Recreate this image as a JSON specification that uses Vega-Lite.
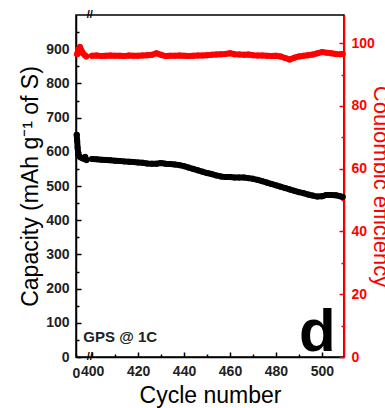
{
  "$schema": "https://vega.github.io/schema/vega-lite/v6.json",
  "width": 268,
  "height": 342,
  "autosize": "none",
  "padding": {"left": 76, "top": 15, "right": 41, "bottom": 51},
  "background": "white",
  "config": {
    "view": {"stroke": "black", "strokeWidth": 1.5},
    "font": "Liberation Sans",
    "axis": {
      "grid": false,
      "domainWidth": 1.5,
      "tickWidth": 1.5,
      "labelFont": "Liberation Sans",
      "labelFontSize": 14,
      "labelFontWeight": "bold",
      "titleFont": "Liberation Sans",
      "titleFontSize": 23,
      "titleFontWeight": "normal",
      "labelFlush": false,
      "labelOverlap": false,
      "labelBound": false
    }
  },
  "datasets": {
    "capacity": [
      {"part": "pre", "cycle": 393.3, "cap": 650}, {"part": "pre", "cycle": 393.5, "cap": 632}, {"part": "pre", "cycle": 393.7, "cap": 612},
      {"part": "pre", "cycle": 394.0, "cap": 592}, {"part": "pre", "cycle": 394.7, "cap": 585}, {"part": "pre", "cycle": 395.5, "cap": 582},
      {"part": "pre", "cycle": 396.3, "cap": 580}, {"part": "pre", "cycle": 397.0, "cap": 585}, {"part": "pre", "cycle": 397.6, "cap": 576},
      {"part": "main", "cycle": 400, "cap": 579}, {"part": "main", "cycle": 402, "cap": 578}, {"part": "main", "cycle": 404, "cap": 577},
      {"part": "main", "cycle": 406, "cap": 576}, {"part": "main", "cycle": 408, "cap": 575}, {"part": "main", "cycle": 410, "cap": 574},
      {"part": "main", "cycle": 412, "cap": 573}, {"part": "main", "cycle": 414, "cap": 572}, {"part": "main", "cycle": 416, "cap": 571},
      {"part": "main", "cycle": 418, "cap": 570}, {"part": "main", "cycle": 420, "cap": 569}, {"part": "main", "cycle": 422, "cap": 568},
      {"part": "main", "cycle": 424, "cap": 566}, {"part": "main", "cycle": 426, "cap": 565}, {"part": "main", "cycle": 428, "cap": 565},
      {"part": "main", "cycle": 430, "cap": 567}, {"part": "main", "cycle": 432, "cap": 565}, {"part": "main", "cycle": 434, "cap": 564},
      {"part": "main", "cycle": 436, "cap": 563}, {"part": "main", "cycle": 438, "cap": 561}, {"part": "main", "cycle": 440, "cap": 558},
      {"part": "main", "cycle": 442, "cap": 554}, {"part": "main", "cycle": 444, "cap": 550}, {"part": "main", "cycle": 446, "cap": 546},
      {"part": "main", "cycle": 448, "cap": 542}, {"part": "main", "cycle": 450, "cap": 538}, {"part": "main", "cycle": 452, "cap": 535},
      {"part": "main", "cycle": 454, "cap": 531}, {"part": "main", "cycle": 456, "cap": 528}, {"part": "main", "cycle": 458, "cap": 526},
      {"part": "main", "cycle": 460, "cap": 526}, {"part": "main", "cycle": 462, "cap": 525}, {"part": "main", "cycle": 464, "cap": 525},
      {"part": "main", "cycle": 466, "cap": 525}, {"part": "main", "cycle": 468, "cap": 523}, {"part": "main", "cycle": 470, "cap": 521},
      {"part": "main", "cycle": 472, "cap": 518}, {"part": "main", "cycle": 474, "cap": 514}, {"part": "main", "cycle": 476, "cap": 510},
      {"part": "main", "cycle": 478, "cap": 506}, {"part": "main", "cycle": 480, "cap": 502}, {"part": "main", "cycle": 482, "cap": 498},
      {"part": "main", "cycle": 484, "cap": 494}, {"part": "main", "cycle": 486, "cap": 490}, {"part": "main", "cycle": 488, "cap": 486},
      {"part": "main", "cycle": 490, "cap": 482}, {"part": "main", "cycle": 492, "cap": 479}, {"part": "main", "cycle": 494, "cap": 475},
      {"part": "main", "cycle": 496, "cap": 472}, {"part": "main", "cycle": 498, "cap": 469}, {"part": "main", "cycle": 500, "cap": 470},
      {"part": "main", "cycle": 502, "cap": 474}, {"part": "main", "cycle": 504, "cap": 474}, {"part": "main", "cycle": 506, "cap": 473},
      {"part": "main", "cycle": 508, "cap": 470}, {"part": "main", "cycle": 509, "cap": 468}
    ],
    "ce": [
      {"part": "pre", "cycle": 393.5, "ce": 96.5}, {"part": "pre", "cycle": 394.0, "ce": 98.0}, {"part": "pre", "cycle": 394.7, "ce": 98.8},
      {"part": "pre", "cycle": 395.3, "ce": 97.8}, {"part": "pre", "cycle": 396.0, "ce": 96.8}, {"part": "pre", "cycle": 396.8, "ce": 96.2},
      {"part": "pre", "cycle": 397.5, "ce": 95.8},
      {"part": "main", "cycle": 400, "ce": 96.0}, {"part": "main", "cycle": 402, "ce": 96.1}, {"part": "main", "cycle": 404, "ce": 95.9},
      {"part": "main", "cycle": 406, "ce": 96.0}, {"part": "main", "cycle": 408, "ce": 96.1}, {"part": "main", "cycle": 410, "ce": 96.0},
      {"part": "main", "cycle": 412, "ce": 96.0}, {"part": "main", "cycle": 414, "ce": 95.9}, {"part": "main", "cycle": 416, "ce": 96.1},
      {"part": "main", "cycle": 418, "ce": 96.0}, {"part": "main", "cycle": 420, "ce": 96.0}, {"part": "main", "cycle": 422, "ce": 96.1},
      {"part": "main", "cycle": 424, "ce": 96.2}, {"part": "main", "cycle": 426, "ce": 96.3}, {"part": "main", "cycle": 428, "ce": 96.8},
      {"part": "main", "cycle": 430, "ce": 96.3}, {"part": "main", "cycle": 432, "ce": 95.9}, {"part": "main", "cycle": 434, "ce": 96.0},
      {"part": "main", "cycle": 436, "ce": 96.0}, {"part": "main", "cycle": 438, "ce": 96.1}, {"part": "main", "cycle": 440, "ce": 96.0},
      {"part": "main", "cycle": 442, "ce": 95.9}, {"part": "main", "cycle": 444, "ce": 96.0}, {"part": "main", "cycle": 446, "ce": 96.1},
      {"part": "main", "cycle": 448, "ce": 96.1}, {"part": "main", "cycle": 450, "ce": 96.2}, {"part": "main", "cycle": 452, "ce": 96.3},
      {"part": "main", "cycle": 454, "ce": 96.4}, {"part": "main", "cycle": 456, "ce": 96.5}, {"part": "main", "cycle": 458, "ce": 96.6},
      {"part": "main", "cycle": 460, "ce": 96.8}, {"part": "main", "cycle": 462, "ce": 96.5}, {"part": "main", "cycle": 464, "ce": 96.4},
      {"part": "main", "cycle": 466, "ce": 96.3}, {"part": "main", "cycle": 468, "ce": 96.4}, {"part": "main", "cycle": 470, "ce": 96.2},
      {"part": "main", "cycle": 472, "ce": 96.1}, {"part": "main", "cycle": 474, "ce": 96.1}, {"part": "main", "cycle": 476, "ce": 96.0},
      {"part": "main", "cycle": 478, "ce": 95.9}, {"part": "main", "cycle": 480, "ce": 96.0}, {"part": "main", "cycle": 482, "ce": 95.8},
      {"part": "main", "cycle": 484, "ce": 95.3}, {"part": "main", "cycle": 486, "ce": 94.8}, {"part": "main", "cycle": 488, "ce": 95.4},
      {"part": "main", "cycle": 490, "ce": 95.8}, {"part": "main", "cycle": 492, "ce": 96.0}, {"part": "main", "cycle": 494, "ce": 96.2},
      {"part": "main", "cycle": 496, "ce": 96.4}, {"part": "main", "cycle": 498, "ce": 96.8}, {"part": "main", "cycle": 500, "ce": 97.2},
      {"part": "main", "cycle": 502, "ce": 97.0}, {"part": "main", "cycle": 504, "ce": 96.8}, {"part": "main", "cycle": 506, "ce": 96.6},
      {"part": "main", "cycle": 508, "ce": 96.5}, {"part": "main", "cycle": 509, "ce": 96.6}
    ]
  },
  "encoding": {
    "x": {
      "field": "cycle",
      "type": "quantitative",
      "scale": {"domain": [393, 509.6], "nice": false, "zero": false},
      "axis": {
        "title": "Cycle number",
        "values": [393, 400, 410, 420, 430, 440, 450, 460, 470, 480, 490, 500],
        "labelExpr": "datum.value == 393 ? '0' : (datum.value % 20 == 0 ? datum.label : '')",
        "domainColor": "black",
        "tickColor": "black",
        "labelColor": "#222",
        "titleColor": "black",
        "tickSize": {"condition": {"test": "datum.value % 20 == 0", "value": -5}, "value": -3},
        "labelPadding": 12,
        "titlePadding": 4
      }
    }
  },
  "layer": [
    {
      "encoding": {
        "y": {
          "field": "cap",
          "type": "quantitative",
          "scale": {"domain": [0, 1000], "nice": false},
          "axis": {
            "orient": "left",
            "title": "Capacity (mAh g⁻¹ of S)",
            "values": [0, 50, 100, 150, 200, 250, 300, 350, 400, 450, 500, 550, 600, 650, 700, 750, 800, 850, 900, 950],
            "labelExpr": "datum.value % 100 == 0 ? datum.label : ''",
            "domainColor": "black",
            "tickColor": "black",
            "labelColor": "#222",
            "titleColor": "black",
            "tickSize": {"condition": {"test": "datum.value % 100 == 0", "value": -5}, "value": -3},
            "labelPadding": 12,
            "titlePadding": 3
          }
        }
      },
      "layer": [
        {
          "data": {"name": "capacity"},
          "mark": {"type": "line", "color": "black", "strokeWidth": 6, "strokeCap": "round", "strokeJoin": "round"},
          "encoding": {"detail": {"field": "part"}}
        },
        {
          "data": {"name": "capacity"},
          "mark": {"type": "circle", "color": "black", "opacity": 1, "size": 36}
        },
        {
          "data": {"values": [{"cycle": 396.2, "cap": 44, "label": "GPS @ 1C"}]},
          "mark": {"type": "text", "align": "left", "baseline": "alphabetic", "fontSize": 15, "fontWeight": "bold", "color": "#222", "font": "Liberation Sans"},
          "encoding": {"text": {"field": "label"}}
        },
        {
          "data": {"values": [{"cycle": 498, "cap": 17, "label": "d"}]},
          "mark": {"type": "text", "align": "center", "baseline": "alphabetic", "fontSize": 60, "fontWeight": "bold", "color": "black", "font": "Liberation Sans"},
          "encoding": {"text": {"field": "label"}}
        },
        {
          "data": {"values": [{"cycle": 399, "cap": 1000, "label": "//"}, {"cycle": 399, "cap": 0, "label": "//"}]},
          "mark": {"type": "text", "align": "center", "baseline": "middle", "fontSize": 11, "fontWeight": "bold", "color": "black", "font": "Liberation Sans"},
          "encoding": {"text": {"field": "label"}}
        }
      ]
    },
    {
      "data": {"name": "ce"},
      "encoding": {
        "y": {
          "field": "ce",
          "type": "quantitative",
          "scale": {"domain": [0, 109], "nice": false},
          "axis": {
            "orient": "right",
            "title": "Coulombic efficiency",
            "values": [0, 10, 20, 30, 40, 50, 60, 70, 80, 90, 100],
            "labelExpr": "datum.value % 20 == 0 ? datum.label : ''",
            "domainColor": "#ff0000",
            "tickColor": "#ff0000",
            "labelColor": "#ff0000",
            "titleColor": "#ff0000",
            "titleFontSize": 22,
            "tickSize": {"condition": {"test": "datum.value % 20 == 0", "value": -5}, "value": -3},
            "labelPadding": 12,
            "titlePadding": -6
          }
        }
      },
      "layer": [
        {
          "mark": {"type": "line", "color": "#ff0000", "strokeWidth": 6, "strokeCap": "round", "strokeJoin": "round"},
          "encoding": {"detail": {"field": "part"}}
        },
        {
          "mark": {"type": "circle", "color": "#ff0000", "opacity": 1, "size": 36}
        }
      ]
    }
  ],
  "resolve": {"scale": {"y": "independent"}}
}
